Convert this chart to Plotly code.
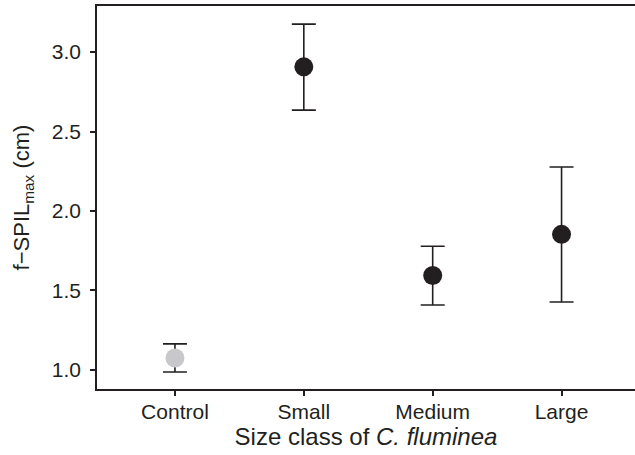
import plotly.graph_objects as go

categories = ["Control", "Small", "Medium", "Large"]
means = [1.075, 2.907, 1.594, 1.853]
upper = [1.164, 3.176, 1.778, 2.277]
lower = [0.987, 2.635, 1.409, 1.427]
colors = ["#c8c8ca", "#231f20", "#231f20", "#231f20"]

xpos = list(range(len(categories)))
err_plus = [u - m for u, m in zip(upper, means)]
err_minus = [m - l for m, l in zip(means, lower)]

ink = "#231f20"
fig = go.Figure()
fig.add_trace(go.Scatter(
    x=xpos, y=means, mode="markers",
    marker=dict(size=19, color=colors, line=dict(width=0)),
    error_y=dict(type="data", symmetric=False, array=err_plus, arrayminus=err_minus,
                 color=ink, thickness=1.6, width=12),
    showlegend=False,
))

font_family = "Liberation Sans, Arial, sans-serif"
fig.update_layout(
    width=635, height=455,
    margin=dict(l=97, r=0, t=6, b=66),
    paper_bgcolor="white", plot_bgcolor="white",
    font=dict(family=font_family, color=ink, size=21),
    xaxis=dict(
        range=[-0.605, 3.57], tickmode="array", tickvals=xpos, ticktext=categories,
        showline=True, linecolor=ink, linewidth=1.6, mirror=True,
        ticks="outside", ticklen=5, tickcolor=ink, tickwidth=1.5,
        showgrid=False, zeroline=False, ticklabelstandoff=-2,
        tickfont=dict(size=21, color=ink),
        title=dict(text="Size class of <i>C. fluminea</i>", font=dict(size=24, color=ink), standoff=3),
    ),
    yaxis=dict(
        range=[0.88, 3.29], tickvals=[1.0, 1.5, 2.0, 2.5, 3.0],
        ticktext=["1.0", "1.5", "2.0", "2.5", "3.0"],
        showline=True, linecolor=ink, linewidth=1.6, mirror=False,
        ticks="outside", ticklen=5, tickcolor=ink, tickwidth=1.5,
        showgrid=False, zeroline=False, ticklabelstandoff=5,
        tickfont=dict(size=21, color=ink),
        title=dict(text="f−SPIL<sub>max</sub> (cm)", font=dict(size=22, color=ink), standoff=16),
    ),
)

fig.write_html("out.html", config={"displayModeBar": False},
               post_script="document.body.style.margin='0';")
